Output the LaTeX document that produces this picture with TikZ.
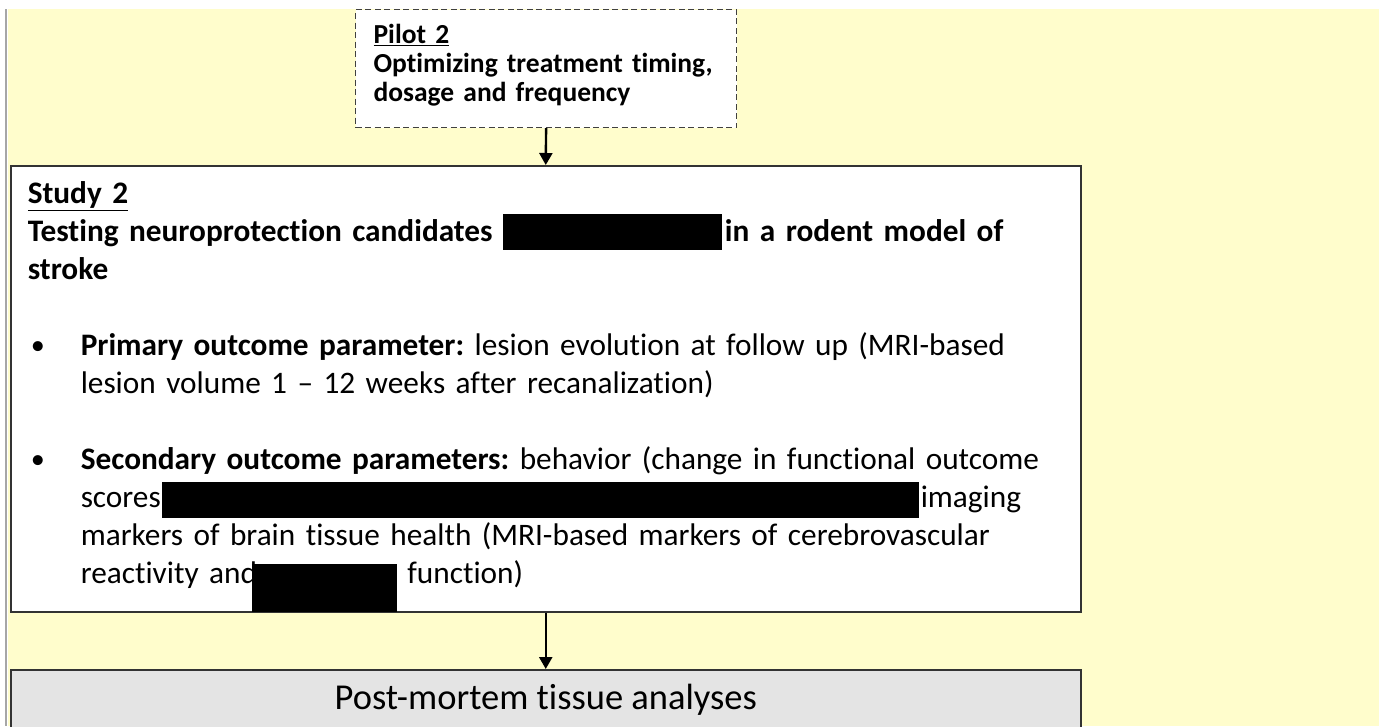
\documentclass[tikz,border=0pt]{standalone}
\usepackage{fontspec}
\setmainfont{Carlito}[Ligatures=NoCommon]
\usepackage{xcolor}
\usetikzlibrary{arrows.meta}
\definecolor{paper}{HTML}{FFFDCC}
\definecolor{postgrey}{HTML}{E4E4E4}
\newcommand{\redact}[3]{\smash{\rule[-#3]{#1}{#2}}}
\newcommand{\bulletitem}{\hspace*{3pt}\makebox[50pt][l]{\raisebox{1.5pt}{\scalebox{0.9}{\textbullet}}}}
\newcommand{\hang}{\hspace*{53pt}}

\begin{document}
\begin{tikzpicture}[x=1pt,y=-1pt,
  pilotbox/.style={draw=black!75,dash pattern=on 6pt off 3.5pt,line width=1.2pt,fill=white,
    anchor=north west,minimum width=381pt,minimum height=118pt,inner xsep=18pt,inner ysep=0pt,
    text width=345pt,align=left,font=\frenchspacing\bfseries\fontsize{27.5}{29}\selectfont},
  studybox/.style={draw=black!80,line width=1.5pt,fill=white,
    anchor=north west,minimum width=1070pt,minimum height=446pt,inner xsep=17pt,inner ysep=0pt,
    text width=1036pt,align=left,font=\frenchspacing\fontsize{31.3}{38}\selectfont},
  postbox/.style={draw=black!80,line width=1.5pt,fill=postgrey,
    anchor=north west,minimum width=1070pt,minimum height=62pt,inner sep=0pt,
    text height=27pt,text depth=9pt,font=\fontsize{36.5}{40}\selectfont},
  flow/.style={line width=2.4pt,-{Stealth[length=12pt,width=13pt,inset=0pt]}}]
  \useasboundingbox (0,0) rectangle (1386,726);
  % page and sheet
  \fill[white] (0,0) rectangle (1386,726);
  \fill[paper] (8,9) rectangle (1379,726);
  \draw[black!35,line width=1.5pt] (6,9) -- (6,726);
  % boxes
  \node[pilotbox] (pilot) at (355,9) {\rule{0pt}{25pt}\underline{Pilot 2}\\
    Optimizing treatment timing,\\
    dosage and frequency\rule[-17pt]{0pt}{17pt}};
  \node[studybox] (study) at (10,165) {\rule{0pt}{25pt}\textbf{\underline{Study 2}}\\
    \textbf{Testing neuroprotection candidates \redact{219pt}{36pt}{8pt}\hspace{3pt}in a rodent model of}\\
    \textbf{stroke}\\[38pt]
    \bulletitem\textbf{Primary outcome parameter:} lesion evolution at follow up (MRI-based\\
    \hang lesion volume 1 -- 12 weeks after recanalization)\\[38pt]
    \bulletitem\textbf{Secondary outcome parameters:} behavior (change in functional outcome\\
    \hang scores\hspace{1pt}\redact{757pt}{36pt}{10pt}\hspace{2pt}imaging\\
    \hang markers of brain tissue health (MRI-based markers of cerebrovascular\\
    \hang reactivity and\hspace{-5pt}\redact{145pt}{48pt}{28pt} function)\rule[-15pt]{0pt}{15pt}};
  \node[postbox] (post) at (10,669) {Post-mortem tissue analyses};
  % arrows
  \draw[flow] (pilot.south) -- (study.north);
  \draw[flow] (study.south) -- (post.north);
\end{tikzpicture}
\end{document}
